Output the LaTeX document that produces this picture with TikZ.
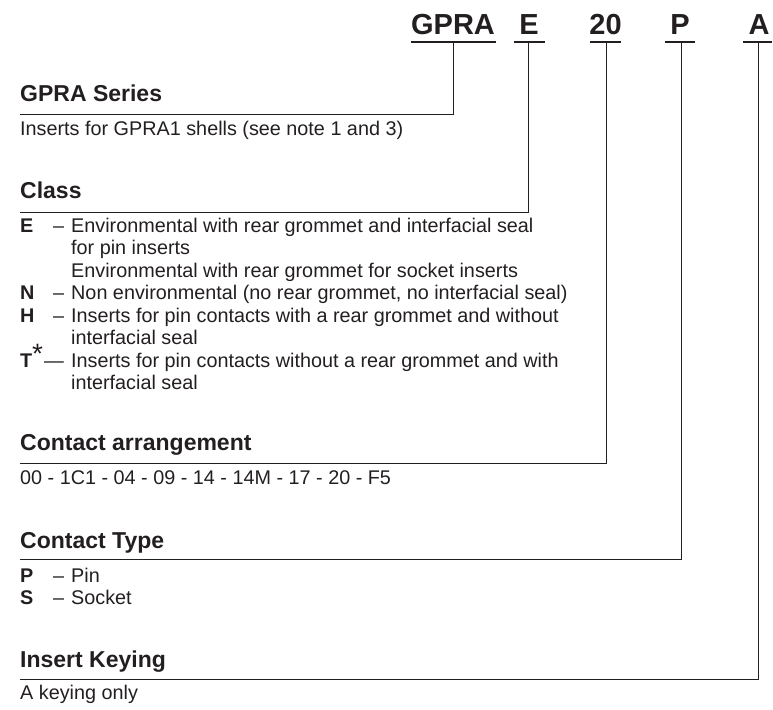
\documentclass[tikz,border=0pt]{standalone}
\usepackage{fontspec}
\setmainfont{Liberation Sans}
\definecolor{ink}{HTML}{231F20}
\begin{document}
\begin{tikzpicture}[x=1pt,y=-1pt,
  toplbl/.style={font=\fontsize{29}{29}\selectfont\bfseries, anchor=base, inner sep=0pt, text=ink},
  head/.style={font=\fontsize{23}{23}\selectfont\bfseries, anchor=base west, inner sep=0pt, text=ink},
  body/.style={font=\fontsize{19.8}{22}\selectfont, anchor=base west, inner sep=0pt, text=ink},
  key/.style={font=\fontsize{19.8}{22}\selectfont\bfseries, anchor=base west, inner sep=0pt, text=ink},
  star/.style={font=\fontsize{28}{28}\selectfont, anchor=base west, inner sep=0pt, text=ink},
  ln/.style={line width=1pt, draw=ink},
  uln/.style={line width=1.1pt, draw=ink}]
\useasboundingbox (0,0) rectangle (773,709);

% top code
\node[toplbl] (tG) at (453,35) {GPRA};
\node[toplbl] (tE) at (529,35) {E};
\node[toplbl] (t20) at (605.5,35) {20};
\node[toplbl] (tP) at (680,35) {P};
\node[toplbl] (tA) at (759,35) {A};

% underlines
\coordinate (uG1) at (411,42); \coordinate (uG2) at (496,42); \coordinate (uG) at (453,42);
\coordinate (uE1) at (514,42); \coordinate (uE2) at (545,42); \coordinate (uE) at (528.5,42);
\coordinate (u201) at (590,42); \coordinate (u202) at (621,42); \coordinate (u20) at (606,42);
\coordinate (uP1) at (665,42); \coordinate (uP2) at (695,42); \coordinate (uP) at (681,42);
\coordinate (uA1) at (743,42); \coordinate (uA2) at (772,42); \coordinate (uA) at (758,42);
\draw[uln] (uG1) -- (uG2);
\draw[uln] (uE1) -- (uE2);
\draw[uln] (u201) -- (u202);
\draw[uln] (uP1) -- (uP2);
\draw[uln] (uA1) -- (uA2);

% leader corners and line starts
\coordinate (cG) at (453,114); \coordinate (sG) at (20,114);
\coordinate (cE) at (528.5,212); \coordinate (sE) at (20,212);
\coordinate (c20) at (606,463); \coordinate (s20) at (20,463);
\coordinate (cP) at (681,559); \coordinate (sP) at (20,559);
\coordinate (cA) at (758,679); \coordinate (sA) at (20,679);
\draw[ln] (uG) -- (cG) -- (sG);
\draw[ln] (uE) -- (cE) -- (sE);
\draw[ln] (u20) -- (c20) -- (s20);
\draw[ln] (uP) -- (cP) -- (sP);
\draw[ln] (uA) -- (cA) -- (sA);

% GPRA Series
\node[head] (hG) at (20,101) {GPRA Series};
\node[body] (bG) at (20,135) {Inserts for GPRA1 shells (see note 1 and 3)};

% Class
\node[head] (hC) at (20,198) {Class};
\node[key] (kE) at (20,232) {E};
\node[body] (dE) at (53,232) {–};
\node[body] (bE1) at (71,232) {Environmental with rear grommet and interfacial seal};
\node[body] (bE2) at (71,254.5) {for pin inserts};
\node[body] (bE3) at (71,277) {Environmental with rear grommet for socket inserts};
\node[key] (kN) at (20,299.5) {N};
\node[body] (dN) at (53,299.5) {–};
\node[body] (bN) at (71,299.5) {Non environmental (no rear grommet, no interfacial seal)};
\node[key] (kH) at (20,322) {H};
\node[body] (dH) at (53,322) {–};
\node[body] (bH1) at (71,322) {Inserts for pin contacts with a rear grommet and without};
\node[body] (bH2) at (71,344.5) {interfacial seal};
\node[key] (kT) at (20,367) {T};
\node[star] (aT) at (32,363) {*};
\node[body] (dT) at (44,367) {—};
\node[body] (bT1) at (71,367) {Inserts for pin contacts without a rear grommet and with};
\node[body] (bT2) at (71,389.5) {interfacial seal};

% Contact arrangement
\node[head] (hA) at (20,450) {Contact arrangement};
\node[body] (bA) at (20,484) {00 - 1C1 - 04 - 09 - 14 - 14M - 17 - 20 - F5};

% Contact Type
\node[head] (hT) at (20,548) {Contact Type};
\node[key] (kP) at (20,582) {P};
\node[body] (dP) at (53,582) {–};
\node[body] (bP) at (71,582) {Pin};
\node[key] (kS) at (20,604) {S};
\node[body] (dS) at (53,604) {–};
\node[body] (bS) at (71,604) {Socket};

% Insert Keying
\node[head] (hK) at (20,667) {Insert Keying};
\node[body] (bK) at (20,699) {A keying only};
\end{tikzpicture}
\end{document}
